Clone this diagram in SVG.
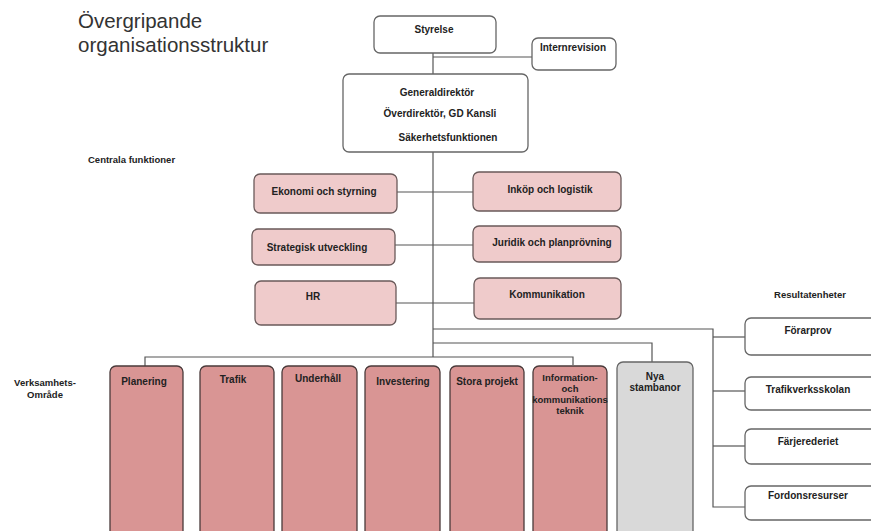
<svg xmlns="http://www.w3.org/2000/svg" width="871" height="531" viewBox="0 0 871 531">
<style>
text{font-family:"Liberation Sans",Arial,sans-serif;font-weight:bold;font-size:10px;fill:#222;text-anchor:middle}
.title{font-weight:normal;font-size:20.5px;fill:#333;text-anchor:start}
.lbl{font-size:9.5px}
.w{fill:#fff;stroke:#666;stroke-width:1.3}
.c{fill:#efcbcb;stroke:#6a5a5a;stroke-width:1.3}
.v{fill:#d99594;stroke:#4a3a3a;stroke-width:1.3}
.g{fill:#d9d9d9;stroke:#666;stroke-width:1.3}
.ln{fill:none;stroke:#555;stroke-width:1.2}
</style>
<rect width="871" height="531" fill="#fff"/>
<text class="title" x="78" y="28">Övergripande</text>
<text class="title" x="78" y="52">organisationsstruktur</text>
<text class="lbl" x="88" y="163" style="text-anchor:start">Centrala funktioner</text>
<text class="lbl" x="810" y="298">Resultatenheter</text>
<text class="lbl" x="45" y="386">Verksamhets-</text>
<text class="lbl" x="45" y="398">Område</text>
<g id="connectors" class="ln">
<path d="M433 53V357"/>
<path d="M433 57H532"/>
<path d="M397 192H473"/>
<path d="M395 245H473"/>
<path d="M396 303H474"/>
<path d="M433 329H713V507H745"/>
<path d="M713 337H745"/>
<path d="M713 391H745"/>
<path d="M713 446H745"/>
<path d="M433 343H652V362"/>
<path d="M145 366V357H573V365"/>
</g>
<g id="styrelse"><rect class="w" x="374" y="16" width="122" height="37" rx="6"/><text x="434" y="33">Styrelse</text></g>
<g id="internrevision"><rect class="w" x="532" y="38" width="84" height="32" rx="6"/><text x="573" y="51">Internrevision</text></g>
<g id="gd"><rect class="w" x="343" y="74" width="185" height="78" rx="6"/>
<text x="437" y="96">Generaldirektör</text>
<text x="440" y="117">Överdirektör, GD Kansli</text>
<text x="448" y="141">Säkerhetsfunktionen</text></g>
<g id="ekonomi"><rect class="c" x="254" y="174" width="143" height="39" rx="6"/><text x="324" y="195">Ekonomi och styrning</text></g>
<g id="inkop"><rect class="c" x="473" y="172" width="148" height="39" rx="6"/><text x="550" y="193">Inköp och logistik</text></g>
<g id="strategisk"><rect class="c" x="252" y="229" width="143" height="36" rx="6"/><text x="317" y="251">Strategisk utveckling</text></g>
<g id="juridik"><rect class="c" x="473" y="226" width="148" height="36" rx="6"/><text x="552" y="246">Juridik och planprövning</text></g>
<g id="hr"><rect class="c" x="255" y="281" width="141" height="44" rx="6"/><text x="313" y="300">HR</text></g>
<g id="kommunikation"><rect class="c" x="474" y="278" width="147" height="41" rx="6"/><text x="547" y="298">Kommunikation</text></g>
<g id="planering"><rect class="v" x="110" y="366" width="73" height="175" rx="6"/><text x="144" y="385">Planering</text></g>
<g id="trafik"><rect class="v" x="200" y="366" width="74" height="175" rx="6"/><text x="233" y="383">Trafik</text></g>
<g id="underhall"><rect class="v" x="282" y="366" width="75" height="175" rx="6"/><text x="318" y="382">Underhåll</text></g>
<g id="investering"><rect class="v" x="365" y="366" width="75" height="175" rx="6"/><text x="403" y="385">Investering</text></g>
<g id="stora"><rect class="v" x="450" y="366" width="74" height="175" rx="6"/><text x="487" y="385">Stora projekt</text></g>
<g id="ikt" style="font-size:9.5px"><rect class="v" x="533" y="366" width="74" height="175" rx="6"/>
<text x="570" y="381" style="font-size:9.5px">Information-</text><text x="570" y="392" style="font-size:9.5px">och</text><text x="570" y="403" style="font-size:9.5px">kommunikations</text><text x="570" y="414" style="font-size:9.5px">teknik</text></g>
<g id="nya"><rect class="g" x="617" y="362" width="76" height="179" rx="6"/><text x="655" y="380">Nya</text><text x="655" y="391">stambanor</text></g>
<g id="forarprov"><rect class="w" x="745" y="318" width="140" height="37" rx="6"/><text x="808" y="334">Förarprov</text></g>
<g id="skolan"><rect class="w" x="745" y="377" width="140" height="33" rx="6"/><text x="808" y="393">Trafikverksskolan</text></g>
<g id="farje"><rect class="w" x="745" y="429" width="140" height="35" rx="6"/><text x="808" y="445">Färjerederiet</text></g>
<g id="fordon"><rect class="w" x="745" y="486" width="140" height="34" rx="6"/><text x="808" y="499">Fordonsresurser</text></g>
</svg>
